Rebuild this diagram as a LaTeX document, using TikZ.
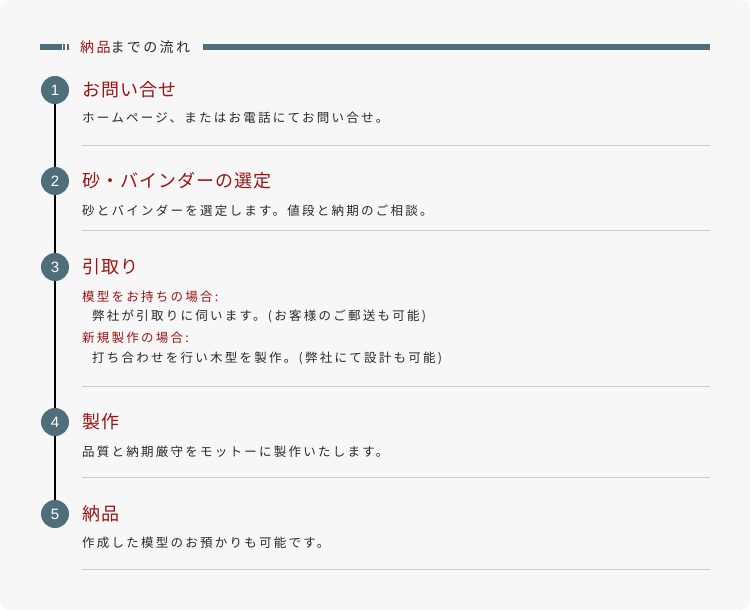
\documentclass[tikz,border=0pt]{standalone}
\usepackage{fontspec}
\usepackage{xcolor}
\usepackage{tikz}
\newfontfamily\jptitle[LetterSpace=6]{Noto Sans CJK JP}
\newfontfamily\jptext[LetterSpace=18]{Noto Sans CJK JP}
\newfontfamily\jphead[LetterSpace=17]{Noto Sans CJK JP}
\newfontfamily\numfont{Liberation Sans}
\definecolor{slate}{HTML}{4E6E7A}
\definecolor{titlered}{HTML}{9B1414}
\definecolor{bodytext}{HTML}{2A2A2A}
\definecolor{rulegray}{HTML}{CCCCCC}
\definecolor{paper}{HTML}{F7F7F7}
\tikzset{
  stepnum/.style={circle,fill=slate,text=white,minimum size=28pt,inner sep=0pt,font=\numfont\fontsize{15}{15}\selectfont},
  steptitle/.style={anchor=west,inner sep=0pt,text=titlered,font=\jptitle\fontsize{18}{18}\selectfont},
  stepdesc/.style={anchor=west,inner sep=0pt,text=bodytext,font=\jptext\fontsize{12.5}{12.5}\selectfont},
  stepsub/.style={stepdesc,text=titlered},
  seprule/.style={rulegray,line width=1pt}
}

\begin{document}
\begin{tikzpicture}[x=1pt,y=-1pt]
\fill[white] (0,0) rectangle (750,610);
\fill[paper,rounded corners=10pt] (0,0) rectangle (750,610);
\useasboundingbox (0,0) rectangle (750,610);

% header
\fill[slate] (40,44) rectangle (62,50);
\fill[slate] (63,44) rectangle (65,50);
\fill[slate] (67,44) rectangle (69,50);
\node[anchor=west,inner sep=0pt,text=bodytext,font=\jphead\fontsize{14}{14}\selectfont] (head) at (80,47) {\textcolor{titlered}{納品}までの流れ};
\fill[slate] (203,44) rectangle (710,50);

% steps
\node[stepnum] (s1) at (55,90) {1};
\node[steptitle] (t1) at (82,90) {お問い合せ};
\node[stepdesc] (d1) at (82,118) {ホームページ、またはお電話にてお問い合せ。};
\draw[seprule] (82,145) -- (710,145);

\node[stepnum] (s2) at (55,181) {2};
\node[steptitle] (t2) at (82,181) {砂・バインダーの選定};
\node[stepdesc] (d2) at (82,211) {砂とバインダーを選定します。値段と納期のご相談。};
\draw[seprule] (82,230) -- (710,230);

\node[stepnum] (s3) at (55,267) {3};
\node[steptitle] (t3) at (82,267) {引取り};
\node[stepsub] (a3) at (82,297) {模型をお持ちの場合:};
\node[stepdesc] (b3) at (92,316) {弊社が引取りに伺います。(お客様のご郵送も可能)};
\node[stepsub] (c3) at (82,338) {新規製作の場合:};
\node[stepdesc] (e3) at (92,358) {打ち合わせを行い木型を製作。(弊社にて設計も可能)};
\draw[seprule] (82,386) -- (710,386);

\node[stepnum] (s4) at (55,422) {4};
\node[steptitle] (t4) at (82,422) {製作};
\node[stepdesc] (d4) at (82,452) {品質と納期厳守をモットーに製作いたします。};
\draw[seprule] (82,477) -- (710,477);

\node[stepnum] (s5) at (55,514) {5};
\node[steptitle] (t5) at (82,514) {納品};
\node[stepdesc] (d5) at (82,543) {作成した模型のお預かりも可能です。};
\draw[seprule] (82,569) -- (710,569);

% timeline
\draw[line width=2pt] (s1.south) -- (s2.north);
\draw[line width=2pt] (s2.south) -- (s3.north);
\draw[line width=2pt] (s3.south) -- (s4.north);
\draw[line width=2pt] (s4.south) -- (s5.north);
\end{tikzpicture}
\end{document}
